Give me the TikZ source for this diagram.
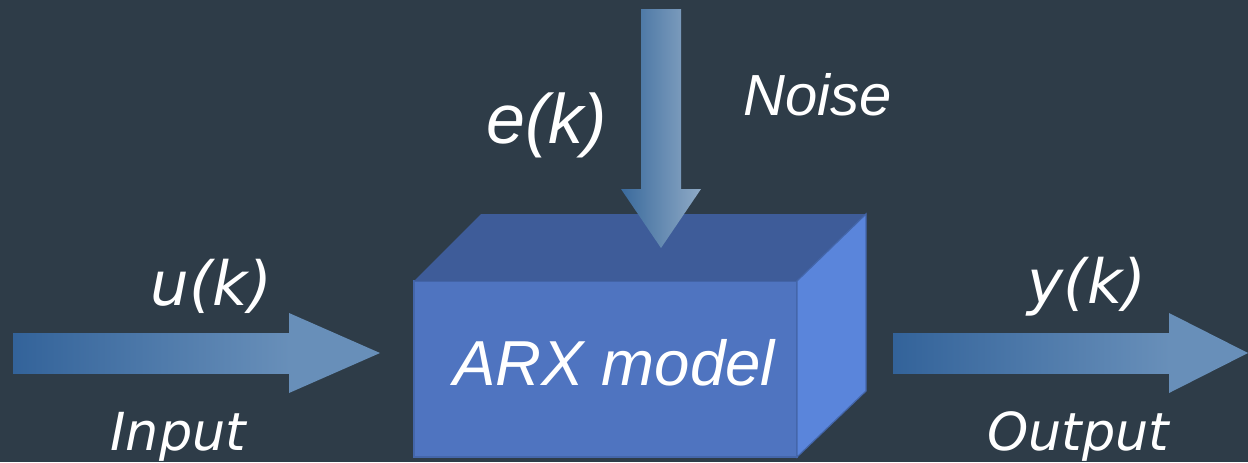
\documentclass[tikz,border=0pt]{standalone}
\usepackage{fontspec}
\newfontfamily\arialfont{Liberation Sans}
\newfontfamily\gothfont{DejaVu Sans}
\usetikzlibrary{calc,positioning}
\definecolor{bgslate}{HTML}{2E3C48}
\definecolor{frontblue}{HTML}{4F74C0}
\definecolor{topblue}{HTML}{3E5C99}
\definecolor{sideblue}{HTML}{5A85DB}
\definecolor{edgeblue}{HTML}{4466AA}
\definecolor{arrowdark}{HTML}{33639A}
\definecolor{arrowlight}{HTML}{688FB9}
\definecolor{noisedark}{HTML}{3A6A9C}
\definecolor{noiselight}{HTML}{8FAAC6}

\begin{document}
\begin{tikzpicture}[x=0.5pt,y=-0.5pt,
    lbl/.style={text=white,inner sep=0pt,anchor=base west},
    arialtxt/.style={lbl,font=\arialfont\itshape\fontsize{#1}{#1}\selectfont},
    gothtxt/.style={lbl,font=\gothfont\itshape\fontsize{#1}{#1}\selectfont}]
    % Background
    \fill[bgslate] (0,0) rectangle (1248,462);
    \clip (0,0) rectangle (1248,462);

    % Model box (front, top and side faces)
    \coordinate (ftl) at (414,281);
    \coordinate (fbr) at (797,457);
    \coordinate (btl) at (481,214);
    \coordinate (btr) at (866,214);
    \coordinate (bbr) at (866,391);
    \fill[frontblue,draw=edgeblue,line width=0.6pt] (ftl) rectangle (fbr);
    \fill[topblue] (ftl) -- (btl) -- (btr) -- (ftl -| fbr) -- cycle;
    \fill[sideblue,draw=edgeblue,line width=0.6pt] (ftl -| fbr) -- (btr) -- (bbr) -- (fbr) -- cycle;
    \node[arialtxt=31.8] (model) at (453,385) {ARX model};

    % Input arrow
    \coordinate (uin) at (13,353);
    \coordinate (utip) at (380,353);
    \fill[arrowlight] ($(utip)+(-91,-40)$) -- (utip) -- ($(utip)+(-91,40)$) -- cycle;
    \shade[left color=arrowdark,right color=arrowlight] ($(uin)+(0,-20)$) rectangle ($(utip)+(-90,20)$);
    \node[gothtxt=30.5] (ulbl) at (150,305) {u(k)};
    \node[gothtxt=26.2] (inlbl) at (110,450) {Input};

    % Output arrow
    \coordinate (yout) at (893,353);
    \coordinate (ytip) at (1248,353);
    \fill[arrowlight] ($(ytip)+(-79,-40)$) -- (ytip) -- ($(ytip)+(-79,40)$) -- cycle;
    \shade[left color=arrowdark,right color=arrowlight] ($(yout)+(0,-20)$) rectangle ($(ytip)+(-78,20)$);
    \node[gothtxt=30.5] (ylbl) at (1027,303) {y(k)};
    \node[gothtxt=26.2] (outlbl) at (987,450) {Output};

    % Noise arrow
    \coordinate (etop) at (661,9);
    \coordinate (etip) at (661,248);
    \shade[left color=noisedark,right color=noiselight]
        ($(etop)+(-20,0)$) -- ($(etop)+(20,0)$) -- ($(etip)+(20,-59)$) -- ($(etip)+(40,-59)$)
        -- (etip) -- ($(etip)+(-40,-59)$) -- ($(etip)+(-20,-59)$) -- cycle;
    \node[arialtxt=35] (elbl) at (486,143) {e(k)};
    \node[arialtxt=29] (noiselbl) at (743,115) {Noise};
\end{tikzpicture}
\end{document}
